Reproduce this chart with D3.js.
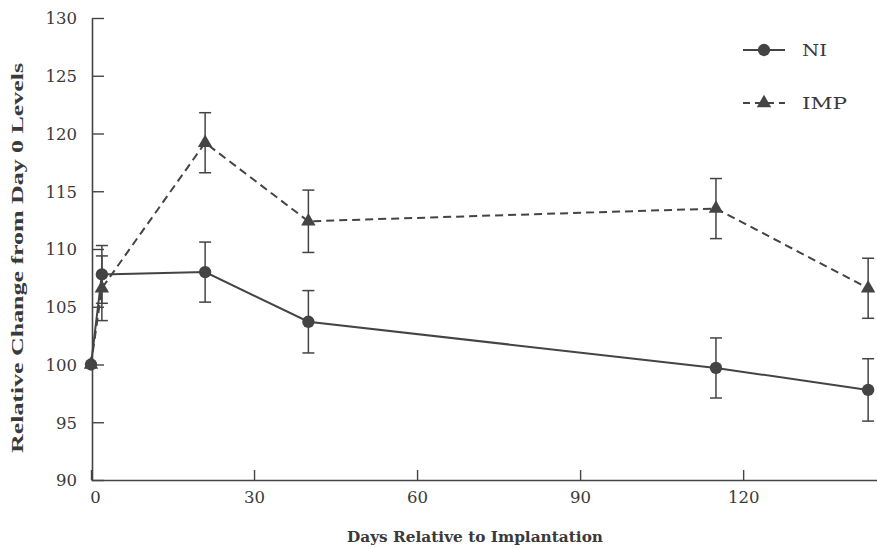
<!DOCTYPE html>
<html>
<head>
<meta charset="utf-8">
<script src="https://cdn.jsdelivr.net/npm/d3@7"></script>
<style>
  body { margin: 0; background: #fff; }
  text { font-family: "DejaVu Serif", "Liberation Serif", serif; fill: #3a3a3a; }
</style>
</head>
<body>
<svg width="877" height="548"></svg>
<script>
// data
const days = [0, 2, 21, 40, 115, 143];
const niMean = [100, 107.8, 108.0, 103.7, 99.7, 97.8];
const niErr = [0, 2.5, 2.6, 2.7, 2.6, 2.7];
const impMean = [100, 106.6, 119.2, 112.4, 113.5, 106.6];
const impErr = [0, 2.8, 2.6, 2.7, 2.6, 2.6];
const xTicks = [0, 30, 60, 90, 120];
const yTicks = [90, 95, 100, 105, 110, 115, 120, 125, 130];

let svg = d3.select('svg');
const ink = '#444';

let x = d3.scaleLinear().domain([0, 145]).range([91, 879]);
let y = d3.scaleLinear().domain([90, 130]).range([480, 18]);

// axes
let yAxis = svg.append('g')
    .attr('transform', `translate(${x(0) + 1},0)`)
    .call(d3.axisLeft(y).tickValues(yTicks).tickSizeInner(-12).tickSizeOuter(0).tickPadding(15));
let xAxis = svg.append('g')
    .attr('transform', `translate(0,${y(90)})`)
    .call(d3.axisBottom(x).tickValues(xTicks).tickSizeInner(-10).tickSizeOuter(0).tickPadding(11));

[xAxis, yAxis].forEach(a => {
    a.select('.domain').attr('stroke', ink).attr('stroke-width', 1.6);
    a.selectAll('.tick line').attr('stroke', ink).attr('stroke-width', 1.4);
    a.selectAll('.tick text').attr('font-size', 16.5).attr('fill', '#3a3a3a')
        .style('font-family', '"DejaVu Serif", serif');
});
yAxis.selectAll('.tick text').attr('dy', '0.36em');
xAxis.select('.tick text').attr('dx', 4);

// axis titles
svg.append('text')
    .attr('x', 475).attr('y', 542)
    .attr('text-anchor', 'middle')
    .attr('font-size', 15).attr('font-weight', 'bold')
    .attr('textLength', 256).attr('lengthAdjust', 'spacingAndGlyphs')
    .text('Days Relative to Implantation');
svg.append('text')
    .attr('transform', 'translate(23,258) rotate(-90)')
    .attr('text-anchor', 'middle')
    .attr('font-size', 16).attr('font-weight', 'bold')
    .style('font-family', '"Liberation Serif", serif')
    .attr('textLength', 390).attr('lengthAdjust', 'spacingAndGlyphs')
    .text('Relative Change from Day 0 Levels');

let series = [
    { name: 'NI', mean: niMean, err: niErr, dash: null, shape: 'circle', w: 25 },
    { name: 'IMP', mean: impMean, err: impErr, dash: '8,5', shape: 'triangle', w: 45 }
];

let line = d3.line().x(d => x(d.day)).y(d => y(d.v));
let symCircle = d3.symbol().type(d3.symbolCircle).size(120);
let symTri = d3.symbol().type(d3.symbolTriangle).size(90);

series.forEach(s => {
    let pts = days.map((d, i) => ({ day: d, v: s.mean[i], e: s.err[i] }));
    let g = svg.append('g').attr('class', s.name);

    // error bars
    let eb = g.selectAll('.eb').data(pts.filter(p => p.e > 0)).enter().append('g');
    eb.append('line')
        .attr('x1', p => x(p.day)).attr('x2', p => x(p.day))
        .attr('y1', p => y(p.v + p.e)).attr('y2', p => y(p.v - p.e))
        .attr('stroke', ink).attr('stroke-width', 1.5);
    [1, -1].forEach(sg => {
        eb.append('line')
            .attr('x1', p => x(p.day) - 6).attr('x2', p => x(p.day) + 6)
            .attr('y1', p => y(p.v + sg * p.e)).attr('y2', p => y(p.v + sg * p.e))
            .attr('stroke', ink).attr('stroke-width', 1.5);
    });

    g.append('path')
        .attr('d', line(pts))
        .attr('fill', 'none')
        .attr('stroke', ink).attr('stroke-width', 2)
        .attr('stroke-dasharray', s.dash);

    g.selectAll('.pt').data(pts).enter().append('path')
        .attr('transform', p => `translate(${x(p.day)},${y(p.v)})`)
        .attr('d', s.shape === 'circle' ? symCircle : symTri)
        .attr('fill', ink);
});

// legend
let legend = svg.append('g');
let legendRows = [
    { s: series[0], y: 50 },
    { s: series[1], y: 103 }
];
legendRows.forEach(r => {
    legend.append('line')
        .attr('x1', 743).attr('x2', 785).attr('y1', r.y).attr('y2', r.y)
        .attr('stroke', ink).attr('stroke-width', 2)
        .attr('stroke-dasharray', r.s.dash ? '7,5' : null);
    legend.append('path')
        .attr('transform', `translate(764,${r.y})`)
        .attr('d', r.s.shape === 'circle' ? symCircle : symTri)
        .attr('fill', ink);
    legend.append('text')
        .attr('x', 802).attr('y', r.y).attr('dy', '0.36em')
        .attr('font-size', 16)
        .attr('textLength', r.s.w).attr('lengthAdjust', 'spacingAndGlyphs')
        .text(r.s.name);
});
</script>
</body>
</html>
